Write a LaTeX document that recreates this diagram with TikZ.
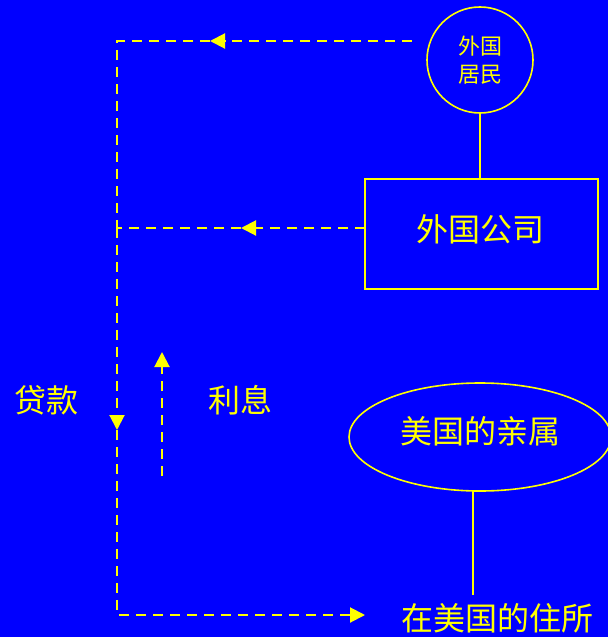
\documentclass[tikz,border=0pt]{standalone}
\usepackage{fontspec}
\setmainfont{Noto Sans CJK SC}[Scale=1]
\usetikzlibrary{arrows.meta,shapes.geometric}
\definecolor{bg}{RGB}{0,0,255}
\definecolor{yl}{RGB}{255,255,0}
\tikzset{
  ln/.style={draw=yl,line width=1.6pt},
  dsh/.style={draw=yl,line width=2pt,dash pattern=on 10pt off 7pt},
  tip/.style={-{Triangle[length=15pt,width=15pt]}},
  lbl/.style={text=yl,font=\fontsize{32}{36}\selectfont,inner sep=0pt},
}
\begin{document}
\begin{tikzpicture}[x=1pt,y=-1pt]
\fill[bg] (0,0) rectangle (608,637);
\useasboundingbox (0,0) rectangle (608,637);
\begin{scope}
\clip (0,0) rectangle (608,637);
% nodes
\node[ln,circle,minimum size=106pt,inner sep=0pt,text=yl,align=center,font=\fontsize{22}{28}\selectfont] (res) at (480,60) {外国\\居民};
\node[ln,rectangle,minimum width=233pt,minimum height=110pt,inner sep=0pt] (co) at (481.5,234) {};
\node[lbl] at (480,229) {外国公司};
\node[ln,ellipse,minimum width=262pt,minimum height=108pt,inner sep=0pt] (rel) at (480,437) {};
\node[lbl] (reltxt) at (480,431) {美国的亲属};
\node[lbl] (home) at (497,618) {在美国的住所};
\node[lbl] (loan) at (46,400) {贷款};
\node[lbl] (int) at (240,400) {利息};
% solid connectors
\draw[ln] (res.south) -- (res.south |- co.north);
\coordinate (relb) at (473,491);
\coordinate (homet) at (473,595);
\draw[ln] (relb) -- (homet);
% dashed paths
\coordinate (a1) at (412,41);
\coordinate (a1m) at (210,41);
\coordinate (c1) at (117,41);
\coordinate (c2) at (117,228);
\coordinate (a2) at (365,228);
\coordinate (a2m) at (241,228);
\coordinate (vm) at (117,430);
\coordinate (c3) at (117,615);
\coordinate (e3) at (365,615);
\draw[dsh,tip] (a1) -- (a1m);
\draw[dsh] (a1m) -- (c1) -- (c2);
\draw[dsh,tip] (a2) -- (a2m);
\draw[dsh] (a2m) -- (c2);
\draw[dsh,tip] (c2) -- (vm);
\draw[dsh,tip] (vm) -- (c3) -- (e3);
\coordinate (ib) at (162,476);
\coordinate (it) at (162,352);
\draw[dsh,tip] (ib) -- (it);
\end{scope}
\end{tikzpicture}
\end{document}
